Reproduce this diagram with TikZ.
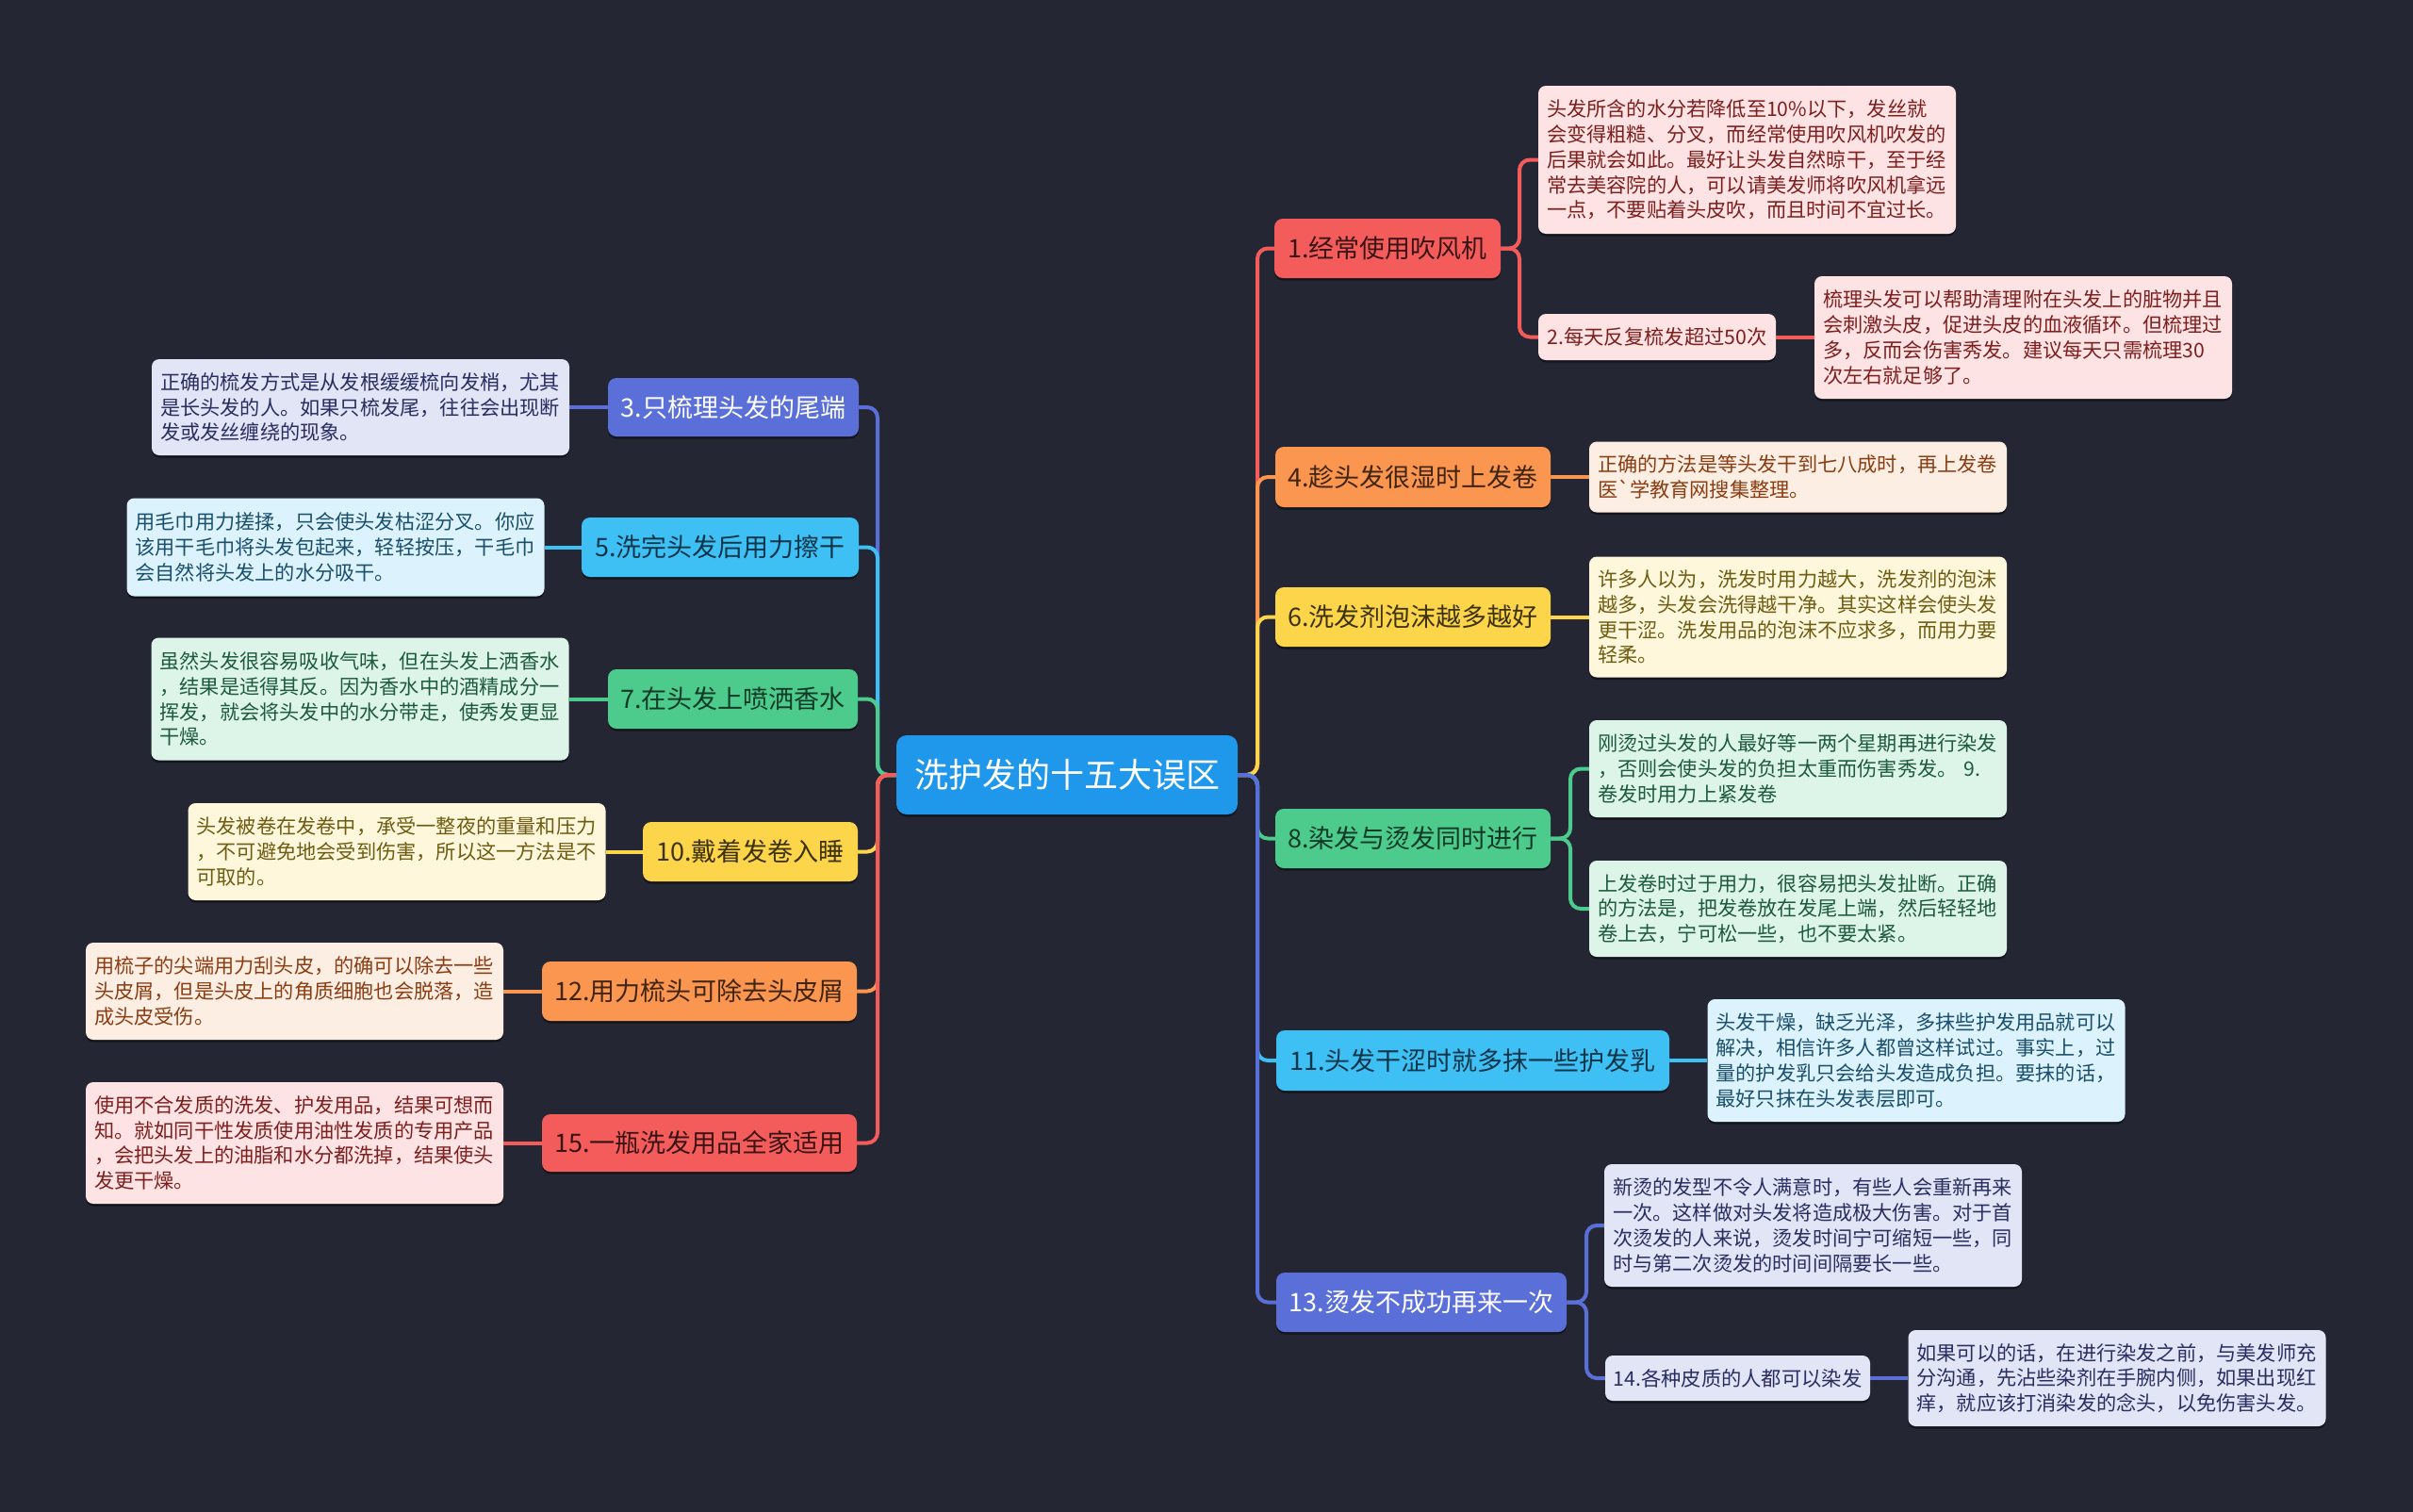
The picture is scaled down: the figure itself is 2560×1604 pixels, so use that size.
\documentclass[tikz,border=0pt]{standalone}
\usepackage{fontspec}
\setmainfont{Noto Sans CJK SC}
\usetikzlibrary{shadows}
\definecolor{bg}{HTML}{242733}
\definecolor{cblue}{HTML}{1F97EB}
\definecolor{cred}{HTML}{F45C5C}
\definecolor{corange}{HTML}{FA9650}
\definecolor{cyellow}{HTML}{FDD54B}
\definecolor{cgreen}{HTML}{4CCB8C}
\definecolor{clblue}{HTML}{3FC0F5}
\definecolor{cindigo}{HTML}{5B6FD8}
\definecolor{lred}{HTML}{FDE3E3}
\definecolor{lorange}{HTML}{FDEEE3}
\definecolor{lyellow}{HTML}{FEF7DC}
\definecolor{lgreen}{HTML}{DDF5E9}
\definecolor{llblue}{HTML}{DCF3FD}
\definecolor{lindigo}{HTML}{E2E5F6}
\definecolor{tred}{HTML}{7D1F1F}
\definecolor{torange}{HTML}{8A3D12}
\definecolor{tyellow}{HTML}{6E5C12}
\definecolor{tgreen}{HTML}{1E5A3C}
\definecolor{tlblue}{HTML}{1A4F6B}
\definecolor{tindigo}{HTML}{282E60}
\definecolor{dred}{HTML}{3A1414}
\definecolor{dorange}{HTML}{40240E}
\definecolor{dyellow}{HTML}{3D330A}
\definecolor{dgreen}{HTML}{103A26}
\definecolor{dlblue}{HTML}{0D3549}
\pgfdeclarelayer{bottom}
\pgfdeclarelayer{background}
\pgfsetlayers{bottom,background,main}
\tikzset{
  shad/.style={drop shadow={shadow xshift=0pt,shadow yshift=-2.5pt,opacity=.45,fill=black}},
  mainbox/.style={shad,rounded corners=9pt, minimum height=63pt, inner sep=0pt,
    font=\fontsize{27}{32}\selectfont, align=center},
  subbox/.style={shad,rounded corners=8pt, minimum height=49pt, inner sep=0pt,
    font=\fontsize{21.3}{26.7}\selectfont, align=center},
  leafbox/.style={shad,rounded corners=8pt, inner xsep=9pt, inner ysep=3pt, text width=425pt,
    align=left, font=\fontsize{21.2}{26.8}\selectfont},
  conn/.style={line width=4pt, rounded corners=11pt},
}
\begin{document}
\begin{tikzpicture}[x=1pt,y=-1pt]
\begin{pgfonlayer}{bottom}
\fill[bg] (0,0) rectangle (2560,1604);
\end{pgfonlayer}
\useasboundingbox (0,0) rectangle (2560,1604);

% centre
\node[shad,rounded corners=11pt, fill=cblue, text=white, minimum width=362pt, minimum height=84pt,
  inner sep=0pt, font=\fontsize{36}{40}\selectfont] (c) at (1132,822) {洗护发的十五大误区};

% ---------- right side ----------
\node[mainbox, fill=cred, text=dred, minimum width=240pt] (n1) at (1472,263.5) {1.经常使用吹风机};
\node[leafbox, fill=lred, text=tred, minimum height=157pt] (l1) at (1853.5,169.5)
 {头发所含的水分若降低至10\%以下，发丝就\\会变得粗糙、分叉，而经常使用吹风机吹发的\\后果就会如此。最好让头发自然晾干，至于经\\常去美容院的人，可以请美发师将吹风机拿远\\一点，不要贴着头皮吹，而且时间不宜过长。};
\node[subbox, fill=lred, text=tred, minimum width=252pt] (n2) at (1758,357.5) {2.每天反复梳发超过50次};
\node[leafbox, fill=lred, text=tred, minimum height=130pt] (l2) at (2146.5,358)
 {梳理头发可以帮助清理附在头发上的脏物并且\\会刺激头皮，促进头皮的血液循环。但梳理过\\多，反而会伤害秀发。建议每天只需梳理30\\次左右就足够了。};

\node[mainbox, fill=corange, text=dorange, minimum width=292pt, minimum height=64pt] (n4) at (1499,506) {4.趁头发很湿时上发卷};
\node[leafbox, fill=lorange, text=torange, minimum height=75pt] (l4) at (1907.5,506)
 {正确的方法是等头发干到七八成时，再上发卷\\医{\addfontfeature{Ligatures=TeXOff}`}学教育网搜集整理。};

\node[mainbox, fill=cyellow, text=dyellow, minimum width=292pt] (n6) at (1499,654.5) {6.洗发剂泡沫越多越好};
\node[leafbox, fill=lyellow, text=tyellow, minimum height=128pt] (l6) at (1907.5,654.5)
 {许多人以为，洗发时用力越大，洗发剂的泡沫\\越多，头发会洗得越干净。其实这样会使头发\\更干涩。洗发用品的泡沫不应求多，而用力要\\轻柔。};

\node[mainbox, fill=cgreen, text=dgreen, minimum width=292pt] (n8) at (1499,889.5) {8.染发与烫发同时进行};
\node[leafbox, fill=lgreen, text=tgreen, minimum height=103pt] (l8a) at (1907.5,815.5)
 {刚烫过头发的人最好等一两个星期再进行染发\\，否则会使头发的负担太重而伤害秀发。 9.\\卷发时用力上紧发卷};
\node[leafbox, fill=lgreen, text=tgreen, minimum height=102pt] (l8b) at (1907.5,964)
 {上发卷时过于用力，很容易把头发扯断。正确\\的方法是，把发卷放在发尾上端，然后轻轻地\\卷上去，宁可松一些，也不要太紧。};

\node[mainbox, fill=clblue, text=dlblue, minimum width=417pt, minimum height=64pt] (n11) at (1562.5,1125) {11.头发干涩时就多抹一些护发乳};
\node[leafbox, fill=llblue, text=tlblue, minimum height=130pt] (l11) at (2033,1125)
 {头发干燥，缺乏光泽，多抹些护发用品就可以\\解决，相信许多人都曾这样试过。事实上，过\\量的护发乳只会给头发造成负担。要抹的话，\\最好只抹在头发表层即可。};

\node[mainbox, fill=cindigo, text=white, minimum width=308pt] (n13) at (1508,1381.5) {13.烫发不成功再来一次};
\node[leafbox, fill=lindigo, text=tindigo, minimum height=130pt] (l13) at (1923.5,1300)
 {新烫的发型不令人满意时，有些人会重新再来\\一次。这样做对头发将造成极大伤害。对于首\\次烫发的人来说，烫发时间宁可缩短一些，同\\时与第二次烫发的时间间隔要长一些。};
\node[subbox, fill=lindigo, text=tindigo, minimum width=281pt, minimum height=48pt] (n14) at (1843.5,1462) {14.各种皮质的人都可以染发};
\node[leafbox, fill=lindigo, text=tindigo, minimum height=102pt] (l14) at (2246,1462)
 {如果可以的话，在进行染发之前，与美发师充\\分沟通，先沾些染剂在手腕内侧，如果出现红\\痒，就应该打消染发的念头，以免伤害头发。};

% ---------- left side ----------
\node[mainbox, fill=cindigo, text=white, minimum width=266pt, minimum height=62pt] (n3) at (778,432) {3.只梳理头发的尾端};
\node[leafbox, fill=lindigo, text=tindigo, minimum height=102pt] (l3) at (382.5,432)
 {正确的梳发方式是从发根缓缓梳向发梢，尤其\\是长头发的人。如果只梳发尾，往往会出现断\\发或发丝缠绕的现象。};

\node[mainbox, fill=clblue, text=dlblue, minimum width=294pt] (n5) at (764,580.5) {5.洗完头发后用力擦干};
\node[leafbox, fill=llblue, text=tlblue, minimum height=104pt] (l5) at (356,580.5)
 {用毛巾用力搓揉，只会使头发枯涩分叉。你应\\该用干毛巾将头发包起来，轻轻按压，干毛巾\\会自然将头发上的水分吸干。};

\node[mainbox, fill=cgreen, text=dgreen, minimum width=265pt] (n7) at (777.5,741.5) {7.在头发上喷洒香水};
\node[leafbox, fill=lgreen, text=tgreen, minimum height=130pt] (l7) at (382,741.5)
 {虽然头发很容易吸收气味，但在头发上洒香水\\，结果是适得其反。因为香水中的酒精成分一\\挥发，就会将头发中的水分带走，使秀发更显\\干燥。};

\node[mainbox, fill=cyellow, text=dyellow, minimum width=228pt] (n10) at (796,903.5) {10.戴着发卷入睡};
\node[leafbox, fill=lyellow, text=tyellow, minimum height=103pt] (l10) at (421,903.5)
 {头发被卷在发卷中，承受一整夜的重量和压力\\，不可避免地会受到伤害，所以这一方法是不\\可取的。};

\node[mainbox, fill=corange, text=dorange, minimum width=334pt] (n12) at (742,1051.5) {12.用力梳头可除去头皮屑};
\node[leafbox, fill=lorange, text=torange, minimum height=103pt] (l12) at (312.5,1051.5)
 {用梳子的尖端用力刮头皮，的确可以除去一些\\头皮屑，但是头皮上的角质细胞也会脱落，造\\成头皮受伤。};

\node[mainbox, fill=cred, text=dred, minimum width=334pt, minimum height=61pt] (n15) at (742,1212.5) {15.一瓶洗发用品全家适用};
\node[leafbox, fill=lred, text=tred, minimum height=129pt] (l15) at (312.5,1212.5)
 {使用不合发质的洗发、护发用品，结果可想而\\知。就如同干性发质使用油性发质的专用产品\\，会把头发上的油脂和水分都洗掉，结果使头\\发更干燥。};

% ---------- connectors ----------
\coordinate (rj) at (1334,822);
\coordinate (lj) at (931,822);
\coordinate (j1) at (1612,263.5);
\coordinate (j8) at (1666,889.5);
\coordinate (j13) at (1683,1381.5);
\begin{pgfonlayer}{background}
% right trunk
\draw[conn, cred]    (c.east) -- (rj) |- (n1.west);
\draw[conn, corange] (c.east) -- (rj) |- (n4.west);
\draw[conn, cyellow] (c.east) -- (rj) |- (n6.west);
\draw[conn, cgreen]  (c.east) -- (rj) |- (n8.west);
\draw[conn, clblue]  (c.east) -- (rj) |- (n11.west);
\draw[conn, cindigo] (c.east) -- (rj) |- (n13.west);
% left trunk
\draw[conn, cindigo] (c.west) -- (lj) |- (n3.east);
\draw[conn, clblue]  (c.west) -- (lj) |- (n5.east);
\draw[conn, cgreen]  (c.west) -- (lj) |- (n7.east);
\draw[conn, cyellow] (c.west) -- (lj) |- (n10.east);
\draw[conn, corange] (c.west) -- (lj) |- (n12.east);
\draw[conn, cred]    (c.west) -- (lj) |- (n15.east);
% right sub-branches
\draw[conn, cred] (n1.east) -- (j1) |- (l1.west);
\draw[conn, cred] (n1.east) -- (j1) |- (n2.west);
\draw[conn, cred] (n2.east) -- (n2.east -| l2.west);
\draw[conn, corange] (n4.east) -- (n4.east -| l4.west);
\draw[conn, cyellow] (n6.east) -- (n6.east -| l6.west);
\draw[conn, cgreen] (n8.east) -- (j8) |- (l8a.west);
\draw[conn, cgreen] (n8.east) -- (j8) |- (l8b.west);
\draw[conn, clblue] (n11.east) -- (n11.east -| l11.west);
\draw[conn, cindigo] (n13.east) -- (j13) |- (l13.west);
\draw[conn, cindigo] (n13.east) -- (j13) |- (n14.west);
\draw[conn, cindigo] (n14.east) -- (n14.east -| l14.west);
% left leaves
\draw[conn, cindigo] (n3.west) -- (n3.west -| l3.east);
\draw[conn, clblue] (n5.west) -- (n5.west -| l5.east);
\draw[conn, cgreen] (n7.west) -- (n7.west -| l7.east);
\draw[conn, cyellow] (n10.west) -- (n10.west -| l10.east);
\draw[conn, corange] (n12.west) -- (n12.west -| l12.east);
\draw[conn, cred] (n15.west) -- (n15.west -| l15.east);
\end{pgfonlayer}
\end{tikzpicture}
\end{document}
